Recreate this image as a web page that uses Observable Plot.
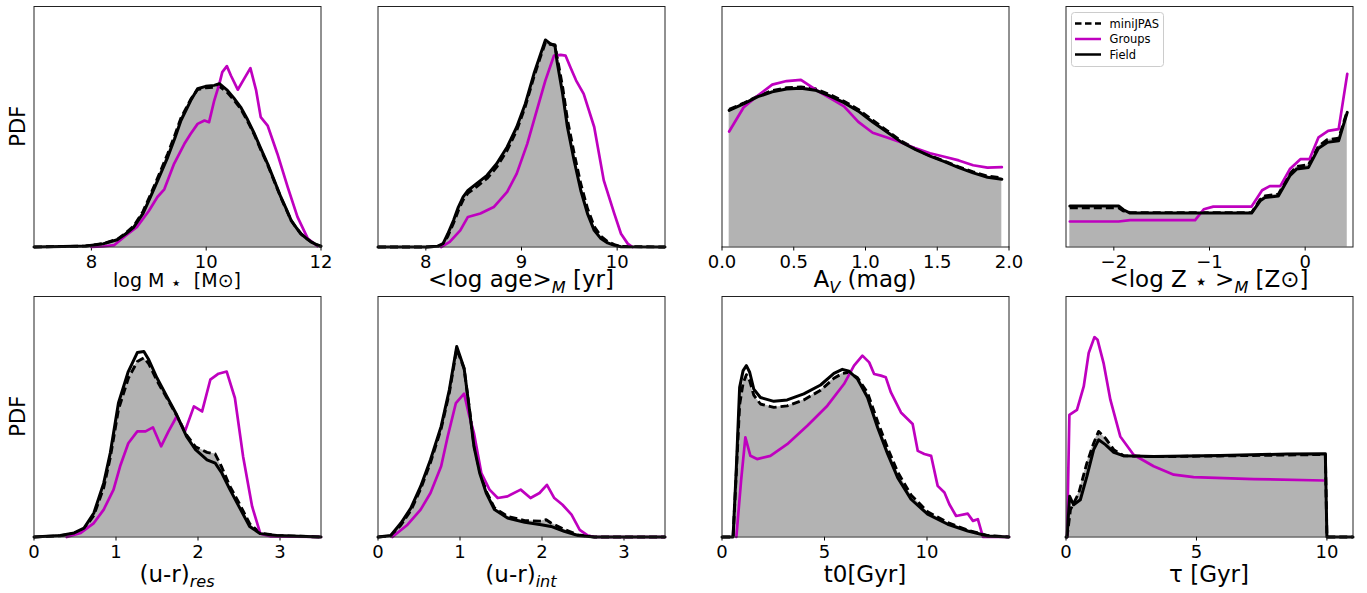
<!DOCTYPE html>
<html><head><meta charset="utf-8">
<script src="https://cdn.jsdelivr.net/npm/d3@7"></script>
<script src="https://cdn.jsdelivr.net/npm/@observablehq/plot@0.6"></script>
<style>
body{margin:0;background:#fff;}
#root{position:relative;width:1367px;height:593px;overflow:hidden;font-family:"DejaVu Sans";}
#root svg{position:absolute;overflow:visible;max-width:none;}
</style></head><body><div id="root"></div>
<script>
// ---------- data: [x, PDF (normalised to panel height)] ----------
const massField = [[7.0,0],[7.5,0.002],[7.9,0.004],[8.2,0.013],[8.45,0.03],[8.6,0.055],[8.74,0.083],[8.9,0.14],[9.03,0.208],[9.18,0.29],[9.33,0.374],[9.45,0.45],[9.56,0.526],[9.73,0.609],[9.85,0.658],[9.99,0.668],[10.14,0.672],[10.23,0.679],[10.37,0.651],[10.48,0.62],[10.6,0.582],[10.72,0.53],[10.84,0.471],[10.95,0.41],[11.07,0.346],[11.18,0.28],[11.3,0.208],[11.4,0.155],[11.48,0.111],[11.57,0.08],[11.65,0.055],[11.75,0.035],[11.83,0.021],[11.92,0.01],[12.0,0.003]];
const massMini = [[7.0,0],[7.5,0.002],[7.9,0.004],[8.2,0.014],[8.45,0.032],[8.6,0.058],[8.74,0.088],[8.9,0.148],[9.03,0.218],[9.18,0.302],[9.33,0.388],[9.45,0.463],[9.56,0.536],[9.73,0.614],[9.85,0.655],[9.99,0.662],[10.14,0.664],[10.23,0.668],[10.37,0.642],[10.48,0.612],[10.6,0.575],[10.72,0.524],[10.84,0.466],[10.95,0.405],[11.07,0.342],[11.18,0.277],[11.3,0.206],[11.4,0.153],[11.48,0.11],[11.57,0.079],[11.65,0.055],[11.75,0.035],[11.83,0.021],[11.92,0.01],[12.0,0.003]];
const massGroups = [[8.0,0],[8.2,0.002],[8.4,0.008],[8.6,0.048],[8.8,0.085],[9.0,0.15],[9.15,0.208],[9.27,0.24],[9.44,0.346],[9.62,0.429],[9.73,0.471],[9.85,0.512],[9.97,0.526],[10.05,0.519],[10.14,0.609],[10.23,0.679],[10.28,0.727],[10.36,0.752],[10.43,0.713],[10.55,0.654],[10.66,0.699],[10.77,0.744],[10.87,0.651],[10.95,0.54],[11.07,0.505],[11.24,0.388],[11.42,0.249],[11.59,0.125],[11.77,0.035],[11.94,0.003]];

const ageField = [[7.5,0],[8.0,0],[8.12,0.003],[8.18,0.014],[8.23,0.055],[8.29,0.111],[8.34,0.166],[8.39,0.208],[8.44,0.235],[8.53,0.263],[8.64,0.298],[8.74,0.346],[8.85,0.416],[8.95,0.499],[9.04,0.596],[9.13,0.72],[9.2,0.803],[9.25,0.861],[9.3,0.845],[9.35,0.838],[9.37,0.776],[9.43,0.637],[9.48,0.499],[9.55,0.36],[9.62,0.235],[9.69,0.139],[9.76,0.069],[9.83,0.035],[9.9,0.017],[9.97,0.007],[10.04,0.001],[10.5,0]];
const ageMini = [[7.5,0],[8.0,0],[8.12,0.002],[8.18,0.01],[8.23,0.045],[8.29,0.1],[8.34,0.152],[8.39,0.196],[8.44,0.224],[8.53,0.25],[8.64,0.285],[8.74,0.332],[8.85,0.402],[8.95,0.485],[9.04,0.585],[9.13,0.708],[9.2,0.793],[9.25,0.85],[9.3,0.843],[9.35,0.84],[9.37,0.795],[9.43,0.665],[9.48,0.53],[9.55,0.39],[9.62,0.262],[9.69,0.16],[9.76,0.085],[9.83,0.045],[9.9,0.023],[9.97,0.01],[10.04,0.002],[10.5,0]];
const ageGroups = [[8.16,0],[8.25,0.021],[8.36,0.069],[8.44,0.125],[8.57,0.139],[8.71,0.166],[8.85,0.229],[8.95,0.305],[9.06,0.429],[9.16,0.568],[9.25,0.693],[9.34,0.796],[9.41,0.799],[9.46,0.796],[9.51,0.748],[9.57,0.693],[9.65,0.637],[9.76,0.499],[9.86,0.277],[9.97,0.139],[10.04,0.055],[10.11,0.014],[10.16,0]];

const avBins = [0.05,0.15,0.25,0.35,0.45,0.55,0.65,0.75,0.85,0.95,1.05,1.15,1.25,1.35,1.45,1.55,1.65,1.75,1.85,1.95];
const avFieldVals = [0.568,0.595,0.625,0.645,0.657,0.66,0.652,0.628,0.6,0.565,0.52,0.478,0.436,0.405,0.378,0.355,0.33,0.308,0.29,0.282];
const avMiniVals = [0.572,0.598,0.628,0.65,0.662,0.666,0.658,0.634,0.606,0.572,0.527,0.484,0.44,0.407,0.38,0.357,0.333,0.312,0.295,0.288];
const avGroupsVals = [0.48,0.58,0.63,0.675,0.69,0.695,0.655,0.62,0.585,0.52,0.475,0.455,0.435,0.41,0.39,0.375,0.36,0.34,0.33,0.332];

const zField = [[-2.46,0.171],[-1.95,0.171],[-1.9,0.155],[-1.83,0.141],[-0.56,0.141],[-0.47,0.192],[-0.42,0.206],[-0.28,0.212],[-0.16,0.296],[-0.09,0.324],[0.035,0.331],[0.14,0.411],[0.23,0.435],[0.35,0.442],[0.44,0.56]];
const zMini = [[-2.46,0.163],[-1.95,0.163],[-1.9,0.15],[-1.83,0.143],[-0.56,0.143],[-0.47,0.198],[-0.42,0.212],[-0.28,0.22],[-0.16,0.305],[-0.09,0.335],[0.035,0.342],[0.14,0.42],[0.23,0.446],[0.35,0.452],[0.44,0.565]];
const zGroups = [[-2.46,0.106],[-1.95,0.106],[-1.83,0.112],[-1.15,0.112],[-1.06,0.157],[-0.96,0.168],[-0.56,0.168],[-0.45,0.236],[-0.37,0.253],[-0.26,0.253],[-0.16,0.324],[-0.05,0.365],[0.045,0.365],[0.14,0.456],[0.24,0.483],[0.35,0.49],[0.44,0.72]];

const urResField = [[0,0],[0.32,0.006],[0.49,0.017],[0.61,0.037],[0.73,0.1],[0.85,0.224],[0.93,0.349],[1.03,0.557],[1.15,0.688],[1.26,0.767],[1.34,0.771],[1.4,0.737],[1.5,0.661],[1.62,0.584],[1.74,0.508],[1.86,0.418],[1.97,0.363],[2.11,0.321],[2.21,0.307],[2.29,0.266],[2.39,0.197],[2.51,0.12],[2.63,0.044],[2.76,0.014],[2.96,0.006],[3.5,0]];
const urResMini = [[0,0],[0.32,0.005],[0.49,0.015],[0.61,0.033],[0.73,0.09],[0.85,0.205],[0.93,0.33],[1.03,0.53],[1.15,0.66],[1.26,0.73],[1.34,0.745],[1.4,0.72],[1.5,0.65],[1.62,0.578],[1.74,0.505],[1.86,0.425],[1.97,0.375],[2.11,0.352],[2.21,0.345],[2.29,0.29],[2.39,0.21],[2.51,0.135],[2.63,0.055],[2.76,0.016],[2.96,0.006],[3.5,0]];
const urResGroups = [[0.4,0],[0.57,0.017],[0.73,0.058],[0.85,0.114],[0.97,0.197],[1.05,0.294],[1.15,0.39],[1.26,0.439],[1.36,0.439],[1.45,0.456],[1.55,0.377],[1.64,0.439],[1.74,0.501],[1.84,0.439],[1.95,0.543],[2.05,0.522],[2.15,0.654],[2.25,0.679],[2.35,0.688],[2.45,0.578],[2.55,0.335],[2.66,0.127],[2.76,0.014],[2.88,0.003],[3.5,0]];

const urIntField = [[0,0],[0.155,0.006],[0.28,0.058],[0.4,0.12],[0.52,0.21],[0.64,0.321],[0.77,0.46],[0.87,0.612],[0.96,0.792],[1.05,0.702],[1.11,0.543],[1.17,0.377],[1.24,0.266],[1.32,0.183],[1.42,0.114],[1.58,0.079],[1.79,0.061],[1.99,0.051],[2.11,0.044],[2.27,0.024],[2.44,0.006],[2.64,0],[3.5,0]];
const urIntMini = [[0,0],[0.155,0.004],[0.28,0.05],[0.4,0.11],[0.52,0.2],[0.64,0.31],[0.77,0.45],[0.87,0.6],[0.96,0.782],[1.05,0.7],[1.11,0.545],[1.17,0.385],[1.24,0.275],[1.32,0.19],[1.42,0.121],[1.58,0.086],[1.79,0.068],[1.99,0.066],[2.05,0.072],[2.11,0.058],[2.27,0.032],[2.44,0.009],[2.64,0],[3.5,0]];
const urIntGroups = [[0.175,0],[0.36,0.051],[0.52,0.114],[0.64,0.183],[0.77,0.294],[0.85,0.418],[0.95,0.557],[1.05,0.596],[1.11,0.508],[1.17,0.432],[1.26,0.266],[1.36,0.197],[1.46,0.162],[1.58,0.169],[1.74,0.197],[1.86,0.162],[1.97,0.183],[2.06,0.217],[2.15,0.162],[2.25,0.134],[2.36,0.093],[2.46,0.03],[2.56,0.006],[2.64,0],[3.5,0]];

const t0Field = [[0,0],[0.54,0],[0.7,0.289],[0.86,0.622],[1.03,0.692],[1.19,0.7125],[1.35,0.685],[1.55,0.615],[1.875,0.58],[2.53,0.564],[3.18,0.57],[3.99,0.595],[4.81,0.632],[5.46,0.68],[5.87,0.697],[6.2,0.689],[6.61,0.657],[7.1,0.58],[7.59,0.455],[8.08,0.345],[8.57,0.247],[9.22,0.157],[10.03,0.095],[11.01,0.053],[11.99,0.025],[12.97,0.004],[14,0]];
const t0Mini = [[0,0],[0.54,0],[0.7,0.27],[0.86,0.55],[1.03,0.64],[1.19,0.675],[1.35,0.65],[1.55,0.59],[1.875,0.553],[2.53,0.539],[3.18,0.545],[3.99,0.57],[4.81,0.61],[5.46,0.66],[5.87,0.68],[6.2,0.685],[6.61,0.662],[7.1,0.6],[7.59,0.48],[8.08,0.37],[8.57,0.27],[9.22,0.175],[10.03,0.105],[11.01,0.06],[11.99,0.028],[12.97,0.006],[14,0]];
const t0Groups = [[0.7,0],[0.93,0.233],[1.14,0.414],[1.385,0.3375],[1.71,0.324],[2.36,0.3375],[3.18,0.386],[4.16,0.4625],[5.14,0.546],[5.95,0.636],[6.44,0.7125],[6.85,0.754],[7.18,0.726],[7.42,0.678],[7.75,0.671],[7.99,0.664],[8.24,0.601],[8.73,0.518],[9.3,0.47],[9.55,0.358],[9.87,0.345],[10.2,0.3375],[10.52,0.2125],[10.85,0.185],[11.09,0.136],[11.42,0.0875],[11.99,0.097],[12.24,0.067],[12.48,0.074],[12.73,0],[14,0]];

const tauField = [[0,0],[0.04,0],[0.14,0.169],[0.29,0.134],[0.55,0.155],[0.8,0.252],[1.06,0.363],[1.25,0.404],[1.51,0.384],[1.83,0.352],[2.21,0.338],[3.36,0.335],[5.91,0.339],[8.47,0.345],[9.94,0.346],[10.0,0],[11,0]];
const tauMini = [[0,0],[0.04,0],[0.17,0.114],[0.49,0.183],[0.8,0.307],[1.06,0.39],[1.25,0.439],[1.51,0.411],[1.83,0.363],[2.21,0.338],[3.36,0.334],[5.91,0.337],[8.47,0.341],[9.94,0.343],[10.0,0],[11,0]];
const tauGroups = [[0.04,0],[0.13,0.508],[0.42,0.529],[0.68,0.626],[0.87,0.765],[1.09,0.831],[1.21,0.82],[1.44,0.723],[1.7,0.571],[2.08,0.418],[2.59,0.342],[3.36,0.294],[4.13,0.259],[4.89,0.249],[7.19,0.241],[9.87,0.235]];

// tick values
const massTicks = [8, 10, 12];
const ageTicks = [8, 9, 10];
const avTicks = [0, 0.5, 1, 1.5, 2];
const zTicks = [-2, -1, 0];
const urTicks = [0, 1, 2, 3];
const tTicks = [0, 5, 10];

// axis labels: [text, kind]  n = normal, s = italic subscript, st = star
const labels = [
  [["log M ", "n"], ["⋆", "st"], ["  [M⊙]", "n"]],
  [["<log age>", "n"], ["M", "s"], [" [yr]", "n"]],
  [["A", "n"], ["V", "s"], [" (mag)", "n"]],
  [["<log Z ", "n"], ["⋆", "st"], [" >", "n"], ["M", "s"], [" [Z⊙]", "n"]],
  [["(u-r)", "n"], ["res", "s"]],
  [["(u-r)", "n"], ["int", "s"]],
  [["t0[Gyr]", "n"]],
  [["τ [Gyr]", "n"]]
];
const legendNames = ["miniJPAS", "Groups", "Field"];

const zip = (xs, ys) => xs.map((x, i) => [x, ys[i]]);
const minus = d => d < 0 ? "\u2212" + (-d) : String(d);

const panels = [
  {field: massField, mini: massMini, groups: massGroups, domain: [7, 12], ticks: massTicks, fmt: minus, lsize: 19},
  {field: ageField, mini: ageMini, groups: ageGroups, domain: [7.5, 10.5], ticks: ageTicks, fmt: minus, lsize: 23},
  {field: zip(avBins, avFieldVals), mini: zip(avBins, avMiniVals), groups: zip(avBins, avGroupsVals), domain: [0, 2], ticks: avTicks, fmt: d3.format(".1f"), lsize: 23},
  {field: zField, mini: zMini, groups: zGroups, domain: [-2.5, 0.5], ticks: zTicks, fmt: minus, lsize: 23},
  {field: urResField, mini: urResMini, groups: urResGroups, domain: [0, 3.5], ticks: urTicks, fmt: minus, lsize: 23},
  {field: urIntField, mini: urIntMini, groups: urIntGroups, domain: [0, 3.5], ticks: urTicks, fmt: minus, lsize: 23},
  {field: t0Field, mini: t0Mini, groups: t0Groups, domain: [0, 14], ticks: tTicks, fmt: minus, lsize: 23},
  {field: tauField, mini: tauMini, groups: tauGroups, domain: [0, 11], ticks: tTicks, fmt: minus, lsize: 23}
];

const MAGENTA = "#bf00bf", GRAY = "#b3b3b3";
const colLeft = [0, 344, 688, 1032], rowTop = [0, 290];
const W = 334, ML = 33.5, MR = 13.5, MT = 6, FH = 240.5;
const root = document.getElementById("root");
const X = d => d[0], Y = d => d[1];

panels.forEach((p, i) => {
  const row = Math.floor(i / 4), col = i % 4;
  const H = row === 0 ? 290 : 303;
  const svg = Plot.plot({
    width: W, height: H,
    marginLeft: ML, marginRight: MR, marginTop: MT, marginBottom: H - MT - FH,
    style: {fontFamily: "DejaVu Sans", fontSize: "18px", background: "transparent", overflow: "visible", color: "#000"},
    x: {domain: p.domain, ticks: p.ticks, tickSize: 4, tickPadding: 4, tickFormat: p.fmt, label: null},
    y: {domain: [0, 1], axis: null},
    marks: [
      Plot.areaY(p.mini, {x: X, y: Y, fill: GRAY}),
      Plot.line(p.mini, {x: X, y: Y, stroke: "#000", strokeWidth: 2.9, strokeDasharray: "8,4", strokeLinecap: "butt"}),
      Plot.line(p.groups, {x: X, y: Y, stroke: MAGENTA, strokeWidth: 2.7}),
      Plot.line(p.field, {x: X, y: Y, stroke: "#000", strokeWidth: 3}),
      Plot.frame({stroke: "#222", strokeWidth: 1})
    ]
  });
  svg.style.left = colLeft[col] + "px";
  svg.style.top = rowTop[row] + "px";
  root.appendChild(svg);
  const s = d3.select(svg);
  s.selectAll("g[aria-label^='x-axis'] text").attr("font-size", 18).style("font-size", "18px");

  // x label
  const cx = ML + (W - ML - MR) / 2;
  const by = MT + FH + (row === 0 ? 40.5 : 45);
  const t = s.append("text").attr("x", cx).attr("y", by).attr("text-anchor", "middle")
    .attr("font-family", "DejaVu Sans").attr("font-size", p.lsize).attr("fill", "#000");
  let cur = 0;
  labels[i].forEach(([txt, kind]) => {
    const target = kind === "s" ? p.lsize * 0.25 : kind === "st" ? p.lsize * 0.1 : 0;
    const ts = t.append("tspan").attr("dy", target - cur).text(txt);
    if (kind === "s") ts.attr("font-size", p.lsize * 0.7).attr("font-style", "italic");
    if (kind === "st") ts.attr("font-size", p.lsize * 0.95);
    cur = target;
  });

  // y label
  if (col === 0) {
    s.append("text").attr("transform", `translate(25,${MT + FH / 2}) rotate(-90)`)
      .attr("text-anchor", "middle").attr("font-family", "DejaVu Sans").attr("font-size", 21)
      .attr("fill", "#000").text("PDF");
  }

  // legend
  if (i === 3) {
    const g = s.append("g").attr("font-family", "DejaVu Sans").attr("font-size", 11.5).attr("text-anchor", "start");
    g.append("rect").attr("x", 39.5).attr("y", 12.5).attr("width", 92).attr("height", 54)
      .attr("rx", 3).attr("fill", "#fff").attr("fill-opacity", 0.8).attr("stroke", "#ccc");
    const styles = [{stroke: "#000", dash: "6.5,3.5"}, {stroke: MAGENTA, dash: null}, {stroke: "#000", dash: null}];
    legendNames.forEach((name, k) => {
      const yy = 23.5 + k * 15.5;
      const ln = g.append("line").attr("x1", 43).attr("x2", 69).attr("y1", yy).attr("y2", yy)
        .attr("stroke", styles[k].stroke).attr("stroke-width", 2.5);
      if (styles[k].dash) ln.attr("stroke-dasharray", styles[k].dash);
      g.append("text").attr("x", 77.5).attr("y", yy + 4).attr("text-anchor", "start").attr("fill", "#000").text(name);
    });
  }
});
</script></body></html>
